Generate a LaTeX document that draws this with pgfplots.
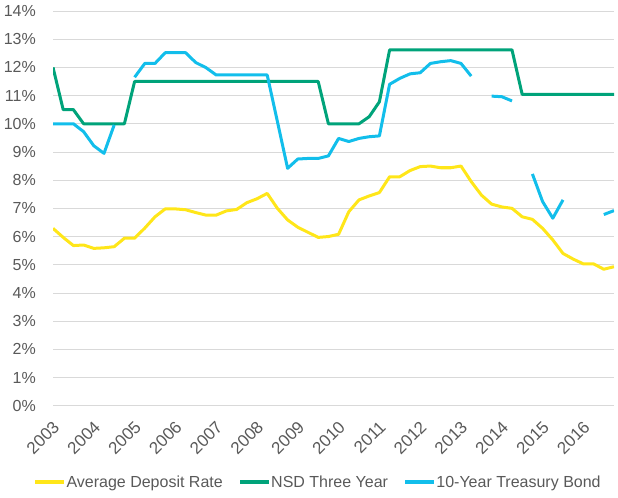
\documentclass[border=0pt]{standalone}
\usepackage{pgfplots}
\usepackage{pgfplotstable}
\pgfplotsset{compat=1.18}
\usepackage{fontspec}
\setmainfont{Liberation Sans}
\definecolor{cy}{RGB}{255,230,25}
\definecolor{cg}{RGB}{0,163,122}
\definecolor{cb}{RGB}{18,190,235}
\definecolor{txt}{RGB}{89,89,89}
\definecolor{gridc}{RGB}{217,217,217}

\pgfplotstableread{
i y g b
0 6.29 12.00 10.00
1 5.97 10.50 10.00
2 5.68 10.50 10.00
3 5.70 10.00 9.72
4 5.58 10.00 9.22
5 5.60 10.00 8.95
6 5.64 10.00 9.96
7 5.94 10.00 nan
8 5.94 11.50 11.65
9 6.30 11.50 12.14
10 6.70 11.50 12.14
11 6.98 11.50 12.52
12 6.98 11.50 12.52
13 6.95 11.50 12.52
14 6.85 11.50 12.17
15 6.76 11.50 11.99
16 6.76 11.50 11.73
17 6.91 11.50 11.73
18 6.96 11.50 11.73
19 7.20 11.50 11.73
20 7.34 11.50 11.73
21 7.53 11.50 11.73
22 7.00 11.50 10.08
23 6.59 11.50 8.42
24 6.33 11.50 8.75
25 6.15 11.50 8.77
26 5.97 11.50 8.77
27 6.00 10.00 8.86
28 6.08 10.00 9.48
29 6.88 10.00 9.37
30 7.30 10.00 9.48
31 7.44 10.25 9.54
32 7.56 10.78 9.57
33 8.12 12.62 11.40
34 8.12 12.62 11.61
35 8.34 12.62 11.77
36 8.48 12.62 11.81
37 8.50 12.62 12.14
38 8.44 12.62 12.20
39 8.44 12.62 12.24
40 8.50 12.62 12.14
41 7.95 12.62 11.69
42 7.47 12.62 nan
43 7.15 12.62 10.98
44 7.05 12.62 10.96
45 7.00 12.62 10.81
46 6.70 11.04 nan
47 6.61 11.04 8.22
48 6.29 11.04 7.24
49 5.88 11.04 6.65
50 5.40 11.04 7.30
51 5.20 11.04 nan
52 5.03 11.04 nan
53 5.03 11.04 nan
54 4.84 11.04 6.78
55 4.93 11.04 6.92
}\data

\begin{document}
\begin{tikzpicture}
\useasboundingbox (0,0) rectangle (618bp,498bp);
\begin{axis}[
  at={(53bp,92.3bp)}, anchor=south west,
  scale only axis, width=561bp, height=394.7bp,
  xmin=0, xmax=55, ymin=0, ymax=14,
  axis line style={draw=none},
  ymajorgrids, grid style={gridc, line width=0.75bp},
  ytick={0,1,...,14},
  yticklabel={\pgfmathprintnumber{\tick}\%},
  /pgf/number format/assume math mode=true,
  xtick={0,4,...,52},
  xticklabels={2003,2004,2005,2006,2007,2008,2009,2010,2011,2012,2013,2014,2015,2016},
  major tick length=0,
  tick label style={font=\fontsize{16bp}{19bp}\selectfont, text=txt},
  yticklabel style={anchor=east, inner sep=0pt, xshift=-17bp},
  xticklabel style={font=\fontsize{17bp}{20bp}\selectfont, xshift=-1bp, yshift=-14bp, rotate=45, anchor=north east, inner sep=0pt},
  unbounded coords=jump,
  legend columns=3,
  legend style={draw=none, fill=none, at={(0.4715,-0.1933)}, anchor=center,
    font=\fontsize{16bp}{19bp}\selectfont, text=txt, inner sep=0pt,
    nodes={inner sep=0.6bp},
    /tikz/every even column/.append style={column sep=15bp},
    /tikz/every odd column/.append style={column sep=0bp}},
  legend cell align=left,
  legend image code/.code={\draw[#1, line width=3.2bp] (0bp,0bp) -- (29bp,0bp);},
  line join=round,
]
\addplot[cy, line width=3bp] table[x=i, y=y] {\data};
\addlegendentry{Average Deposit Rate}
\addplot[cg, line width=3bp] table[x=i, y=g] {\data};
\addlegendentry{NSD Three Year}
\addplot[cb, line width=3bp] table[x=i, y=b] {\data};
\addlegendentry{10-Year Treasury Bond}
\end{axis}
\end{tikzpicture}
\end{document}
